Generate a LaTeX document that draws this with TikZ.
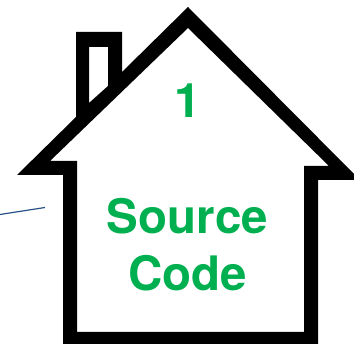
\documentclass[tikz,border=0pt]{standalone}
\usepackage{fontspec}
\setmainfont{TeX Gyre Heros}
\definecolor{labelgreen}{HTML}{00B050}
\definecolor{leaderblue}{HTML}{2A5288}
\tikzset{
  houselabel/.style={anchor=base,inner sep=0pt,text=labelgreen,font=\fontsize{47.5}{50}\selectfont\bfseries},
  leader/.style={draw=leaderblue,line width=1.2pt}
}
\begin{document}
\begin{tikzpicture}[x=1pt,y=-1pt]
\useasboundingbox (0,0) rectangle (354,344);
\fill[white] (0,0) rectangle (354,344);
\fill[black,even odd rule]
  (188,7) -- (360,180) -- (318,180) -- (318,344) -- (63,344) -- (63,175) -- (17,175)
  -- (76,117) -- (76,32) -- (122,32) -- (122,72) -- cycle
  (188,28) -- (329,166) -- (304,166) -- (304,332) -- (77,332) -- (77,161) -- (50,161) -- cycle
  (89,47) -- (108,47) -- (108,86) -- (89,103) -- cycle;
\node[houselabel] (one) at (187.5,118) {1};
\node[houselabel] (source) at (187.5,234) {Source};
\node[houselabel] (code) at (187.5,291) {Code};
\coordinate (leadA) at (0,214.5);
\coordinate (leadB) at (45,207.5);
\draw[leader] (leadA) -- (leadB);
\end{tikzpicture}
\end{document}
